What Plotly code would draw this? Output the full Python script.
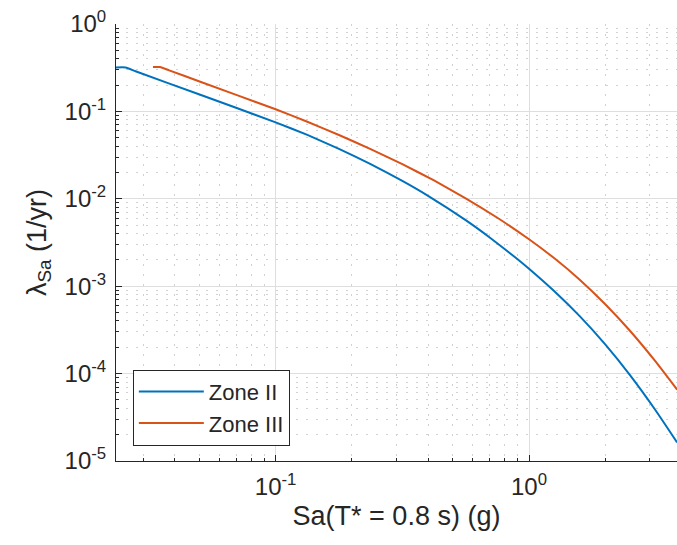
import plotly.graph_objects as go

# Zone II hazard curve
sa_zone2 = [0.0234, 0.0256, 0.0280, 0.0501, 0.1, 0.1334, 0.1778, 0.2371, 0.3162, 0.3981, 0.5623, 0.7079,
            0.8913, 1.0, 1.259, 1.585, 1.995, 2.512, 3.162, 3.84]
lam_zone2 = [0.318, 0.318, 0.288, 0.156, 0.0750, 0.0538, 0.0372, 0.02495, 0.01603, 0.01089, 0.00570, 0.00352,
             0.00209, 0.001585, 8.75e-4, 4.54e-4, 2.17e-4, 9.48e-5, 3.78e-5, 1.63e-5]

# Zone III hazard curve
sa_zone3 = [0.0328, 0.0350, 0.0380, 0.0501, 0.1, 0.1334, 0.1778, 0.2371, 0.3162, 0.4217, 0.5623, 0.7499,
            1.0, 1.259, 1.585, 1.995, 2.512, 3.162, 3.84]
lam_zone3 = [0.322, 0.322, 0.295, 0.220, 0.1057, 0.0762, 0.0537, 0.0371, 0.0249, 0.01622, 0.01014, 0.00607,
             0.00344, 0.002084, 0.001186, 6.25e-4, 3.05e-4, 1.368e-4, 6.56e-5]

x_tickvals = [0.1, 1.0]
x_ticktext = ["10<sup>-1</sup>", "10<sup>0</sup>"]
y_tickvals = [1e-5, 1e-4, 1e-3, 1e-2, 1e-1, 1]
y_ticktext = ["10<sup>-5</sup>", "10<sup>-4</sup>", "10<sup>-3</sup>", "10<sup>-2</sup>", "10<sup>-1</sup>", "10<sup>0</sup>"]

FONT = "Liberation Sans, Arial, sans-serif"
TXT = "#262626"

fig = go.Figure()
fig.add_trace(go.Scatter(x=sa_zone2, y=lam_zone2, mode="lines", name="Zone II",
                         line=dict(color="#0072BD", width=2, shape="spline", smoothing=0.4)))
fig.add_trace(go.Scatter(x=sa_zone3, y=lam_zone3, mode="lines", name="Zone III",
                         line=dict(color="#D95319", width=2, shape="spline", smoothing=0.4)))

axis_common = dict(
    type="log", showline=True, linecolor=TXT, linewidth=1, mirror=False,
    ticks="inside", ticklen=6, tickcolor=TXT, tickwidth=1,
    showgrid=True, gridcolor="#dedede", gridwidth=1, zeroline=False,
    tickfont=dict(family=FONT, size=24, color=TXT),
    ticklabelstandoff=4,
    minor=dict(ticks="inside", ticklen=3, tickcolor=TXT, showgrid=True,
               gridcolor="#d2d2d2", griddash="2px,8px", gridwidth=1, dtick="D1"),
)

fig.update_xaxes(**axis_common, range=[-1.630, 0.584], tickvals=x_tickvals, ticktext=x_ticktext,
                 title=dict(text="Sa(T* = 0.8 s) (g)", font=dict(family=FONT, size=27, color=TXT), standoff=7))
fig.update_yaxes(**axis_common, range=[-5, 0], tickvals=y_tickvals, ticktext=y_ticktext,
                 title=dict(text="λ<sub>Sa</sub> (1/yr)", font=dict(family=FONT, size=27, color=TXT), standoff=10))

fig.update_layout(
    width=677, height=545,
    margin=dict(l=116, r=0, t=24, b=84),
    paper_bgcolor="white", plot_bgcolor="white",
    font=dict(family=FONT, color=TXT),
    legend=dict(x=0.03, y=0.035, xanchor="left", yanchor="bottom",
                bgcolor="white", bordercolor=TXT, borderwidth=1,
                font=dict(family=FONT, size=22, color=TXT), itemwidth=65,
                tracegroupgap=0),
    showlegend=True,
)

fig.write_html("out.html")
